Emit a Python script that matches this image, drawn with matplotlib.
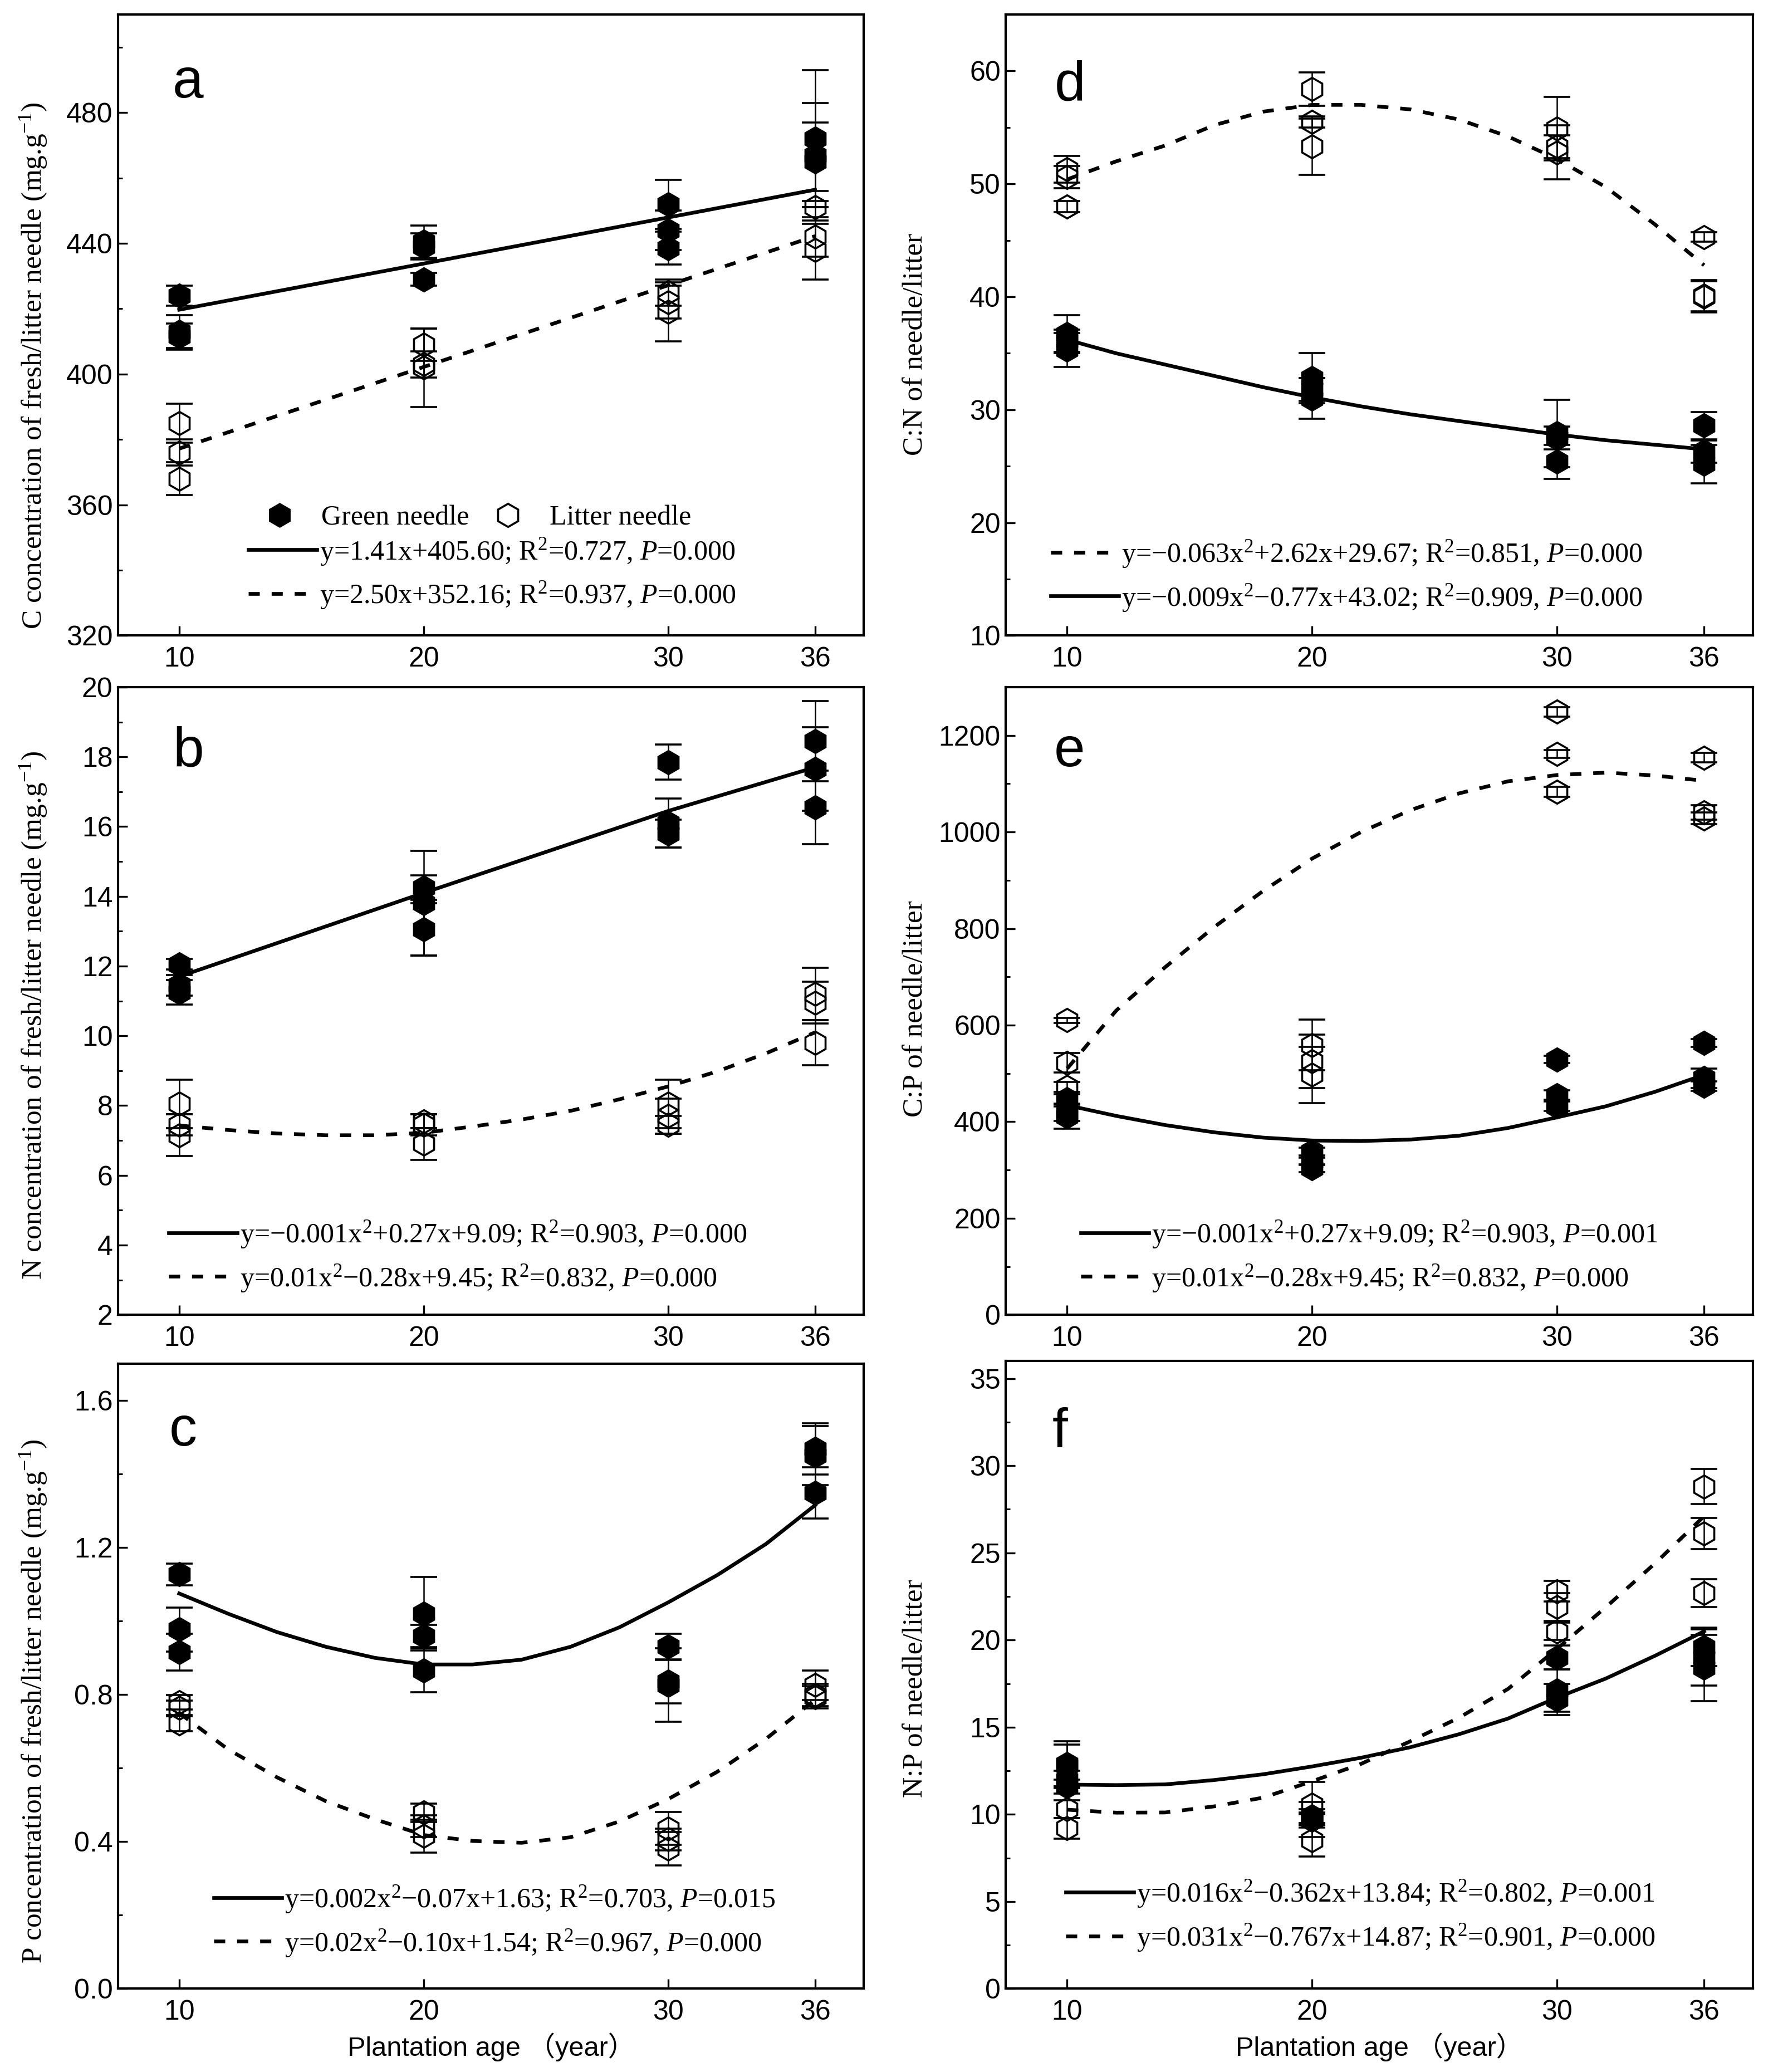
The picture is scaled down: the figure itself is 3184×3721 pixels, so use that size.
import numpy as np
import matplotlib
matplotlib.use("Agg")
import matplotlib.pyplot as plt
from matplotlib.lines import Line2D
from matplotlib.ticker import MultipleLocator, FormatStrFormatter

plt.rcParams['font.family'] = ['Liberation Sans', 'Noto Sans CJK SC']
plt.rcParams['mathtext.fontset'] = 'custom'
plt.rcParams['mathtext.rm'] = 'Liberation Serif'
plt.rcParams['mathtext.it'] = 'Liberation Serif:italic'

SERIF = ['Liberation Serif', 'DejaVu Serif']

ages = [10, 20, 30, 36]
fit_x = [10, 12, 14, 16, 18, 20, 22, 24, 26, 28, 30, 32, 34, 36]

# --- a: C concentration
c_green = [[424, 413, 411.5], [440.5, 439, 429], [452, 444, 438.5], [472, 467, 465]]
c_green_err = [[3, 5, 4], [5, 4, 2], [7.5, 6, 5], [21, 16, 12]]
c_litter = [[385, 376, 368], [409, 403, 402], [425, 422, 419], [451, 442, 438]]
c_litter_err = [[6, 4, 5], [5, 4, 12], [4, 5, 9], [5, 6, 9]]
c_fit_x = [10, 36]
c_green_fit = [419.7, 456.4]
c_litter_fit = [377.2, 442.2]

# --- b: N concentration
n_green = [[12.05, 11.45, 11.25], [14.25, 13.8, 13.05], [17.85, 16.1, 15.8], [18.45, 17.65, 16.55]]
n_green_err = [[0.15, 0.3, 0.35], [0.35, 1.5, 0.75], [0.5, 0.7, 0.4], [1.15, 1.2, 1.05]]
n_litter = [[8.05, 7.45, 7.15], [7.55, 7.45, 6.9], [8.05, 7.7, 7.45], [11.2, 10.95, 9.8]]
n_litter_err = [[0.7, 0.3, 0.6], [0.2, 0.3, 0.45], [0.7, 0.5, 0.25], [0.75, 0.6, 0.65]]
n_green_fit_x = [10, 20, 30, 36]
n_green_fit = [11.7, 14.1, 16.45, 17.7]
n_litter_fit = [7.43, 7.3, 7.2, 7.15, 7.15, 7.22, 7.4, 7.6, 7.85, 8.18, 8.55, 8.98, 9.5, 10.1]

# --- c: P concentration
p_green = [[1.127, 0.977, 0.916], [1.02, 0.959, 0.866], [0.93, 0.836, 0.826], [1.468, 1.45, 1.349]]
p_green_err = [[0.03, 0.06, 0.05], [0.1, 0.03, 0.06], [0.035, 0.06, 0.1], [0.07, 0.08, 0.07]]
p_litter = [[0.779, 0.764, 0.721], [0.479, 0.442, 0.415], [0.436, 0.406, 0.381], [0.826, 0.799, 0.793]]
p_litter_err = [[0.02, 0.02, 0.02], [0.025, 0.03, 0.045], [0.045, 0.03, 0.045], [0.04, 0.03, 0.03]]
p_green_fit = [1.075, 1.02, 0.97, 0.93, 0.90, 0.882, 0.882, 0.895, 0.93, 0.983, 1.051, 1.125, 1.21, 1.315]
p_litter_fit = [0.75, 0.651, 0.575, 0.51, 0.461, 0.418, 0.402, 0.397, 0.412, 0.455, 0.516, 0.59, 0.68, 0.786]

# --- d: C:N
cn_green = [[36.7, 36.1, 35.3], [32.8, 31.8, 31.0], [27.9, 27.5, 25.4], [28.6, 26.3, 25.2]]
cn_green_err = [[1.7, 1.0, 1.5], [2.2, 1.0, 1.8], [3.0, 1.0, 1.5], [1.2, 1.0, 1.7]]
cn_litter = [[51.3, 50.6, 48.0], [58.4, 55.5, 53.3], [54.9, 53.3, 52.8], [45.3, 40.1, 40.0]]
cn_litter_err = [[1.2, 1.0, 0.5], [1.5, 0.5, 2.5], [2.8, 1.0, 2.4], [0.4, 1.4, 1.4]]
cn_green_fit = [36.2, 35.0, 34.0, 33.0, 32.0, 31.1, 30.3, 29.6, 29.0, 28.4, 27.8, 27.3, 26.9, 26.5]
cn_litter_fit = [50.4, 52.0, 53.4, 55.2, 56.4, 57.0, 57.0, 56.6, 55.7, 54.2, 52.2, 49.7, 46.4, 42.8]

# --- e: C:P
cp_green = [[447, 417, 411], [338, 318, 304], [529, 455, 432], [563, 490, 474]]
cp_green_err = [[10, 15, 25], [8, 8, 8], [8, 10, 10], [8, 20, 10]]
cp_litter = [[610, 522, 472], [559, 525, 497], [1249, 1162, 1083], [1154, 1041, 1028]]
cp_litter_err = [[5, 20, 10], [53, 55, 58], [10, 8, 10], [10, 15, 12]]
cp_green_fit = [434, 412, 393, 378, 367, 361, 360, 363, 371, 387, 409, 432, 462, 497]
cp_litter_fit = [510, 630, 720, 803, 878, 945, 1000, 1045, 1080, 1105, 1118, 1123, 1117, 1106]

# --- f: N:P
np_green = [[12.9, 12.0, 11.6], [9.9, 9.8, 9.7], [19.0, 17.1, 16.6], [19.6, 19.0, 18.4]]
np_green_err = [[1.3, 0.5, 0.4], [0.4, 0.3, 0.3], [0.7, 1.2, 0.9], [1.1, 1.6, 1.9]]
np_litter = [[12.8, 10.3, 9.2], [10.55, 9.7, 8.5], [22.8, 21.9, 20.5], [28.8, 26.1, 22.7]]
np_litter_err = [[1.2, 0.5, 0.6], [1.3, 1.0, 0.9], [0.6, 0.8, 0.5], [1.0, 0.9, 0.8]]
np_green_fit = [11.71, 11.68, 11.72, 11.97, 12.3, 12.75, 13.25, 13.85, 14.6, 15.5, 16.7, 17.8, 19.1, 20.5]
np_litter_fit = [10.27, 10.1, 10.11, 10.46, 10.96, 11.9, 12.9, 14.19, 15.55, 17.2, 19.5, 21.9, 24.4, 27.1]

eq_a = [r'y=1.41x+405.60; R$^2$=0.727, $\mathit{P}$=0.000',
        r'y=2.50x+352.16; R$^2$=0.937, $\mathit{P}$=0.000']
eq_b = [r'y=−0.001x$^2$+0.27x+9.09; R$^2$=0.903, $\mathit{P}$=0.000',
        r'y=0.01x$^2$−0.28x+9.45; R$^2$=0.832, $\mathit{P}$=0.000']
eq_c = [r'y=0.002x$^2$−0.07x+1.63; R$^2$=0.703, $\mathit{P}$=0.015',
        r'y=0.02x$^2$−0.10x+1.54; R$^2$=0.967, $\mathit{P}$=0.000']
eq_d = [r'y=−0.063x$^2$+2.62x+29.67; R$^2$=0.851, $\mathit{P}$=0.000',
        r'y=−0.009x$^2$−0.77x+43.02; R$^2$=0.909, $\mathit{P}$=0.000']
eq_e = [r'y=−0.001x$^2$+0.27x+9.09; R$^2$=0.903, $\mathit{P}$=0.001',
        r'y=0.01x$^2$−0.28x+9.45; R$^2$=0.832, $\mathit{P}$=0.000']
eq_f = [r'y=0.016x$^2$−0.362x+13.84; R$^2$=0.802, $\mathit{P}$=0.001',
        r'y=0.031x$^2$−0.767x+14.87; R$^2$=0.901, $\mathit{P}$=0.000']

LW = 2.4
DASH = (3, 3.2)
MS = 15
LEG_FS = 18


def scatter_group(ax, vals, errs, filled):
    xs = np.repeat(ages, 3)
    ys = np.array(vals).ravel()
    es = np.array(errs).ravel()
    ax.errorbar(xs, ys, yerr=es, fmt='h', ms=MS, mew=1.3, mec='black',
                mfc='black' if filled else 'none', ecolor='black',
                elinewidth=0.9, capsize=8.5, capthick=0.9, zorder=3)


def style_axes(ax, ylim, major, minor, fmt):
    ax.set_xlim(7.5, 38.0)
    ax.set_ylim(*ylim)
    ax.set_xticks(ages)
    ax.yaxis.set_major_locator(MultipleLocator(major))
    ax.yaxis.set_minor_locator(MultipleLocator(minor))
    ax.yaxis.set_major_formatter(FormatStrFormatter(fmt))
    for s in ax.spines.values():
        s.set_linewidth(1.5)
    ax.tick_params(axis='both', which='major', direction='in', length=6, width=1.2,
                   labelsize=18, top=False, right=False)
    ax.tick_params(axis='y', which='major', pad=3.5)
    ax.tick_params(axis='x', which='major', pad=7)
    ax.tick_params(axis='y', which='minor', direction='in', length=3, width=1.1, right=False)
    ax.tick_params(axis='x', which='minor', bottom=False)


def fit_legend(ax, order, labels, x0, yc):
    handles = []
    for kind in order:
        if kind == 'solid':
            handles.append(Line2D([], [], color='black', lw=LW))
        else:
            handles.append(Line2D([], [], color='black', lw=LW, dashes=DASH))
    leg = ax.legend(handles, labels, loc='center left', bbox_to_anchor=(x0, yc),
                    frameon=False, handlelength=2.45, handletextpad=0.1, borderpad=0,
                    borderaxespad=0, labelspacing=0.45, prop={'family': SERIF, 'size': LEG_FS})
    return leg


def panel(ax, letter, letter_xy, green, green_err, litter, litter_err,
          gx, gfit, lx, lfit, ylim, major, minor, fmt, ylabel, lab_xy):
    ax.plot(gx, gfit, color='black', lw=LW, zorder=2)
    ax.plot(lx, lfit, color='black', lw=LW, dashes=DASH, zorder=2)
    scatter_group(ax, green, green_err, True)
    scatter_group(ax, litter, litter_err, False)
    style_axes(ax, ylim, major, minor, fmt)
    ax.set_ylabel(ylabel, family=SERIF, fontsize=18.5)
    ax.yaxis.set_label_coords(*lab_xy)
    ax.text(letter_xy[0], letter_xy[1], letter, transform=ax.transAxes, fontsize=36,
            ha='center', va='center')


fig = plt.figure(figsize=(15.92, 18.605), dpi=200)
W = 1336.0
H = 1568.0


def make_ax(l, r, t, b):
    return fig.add_axes([l / W, 1 - b / H, (r - l) / W, (b - t) / H])


ax_a = make_ax(89, 651, 11, 481)
ax_b = make_ax(89, 651, 520, 995)
ax_c = make_ax(89, 651, 1032, 1505)
ax_d = make_ax(758, 1321, 11, 481)
ax_e = make_ax(758, 1321, 520, 995)
ax_f = make_ax(758, 1321, 1030, 1505)

LX_L = -0.093
LX_R = -0.104

panel(ax_a, 'a', (0.094, 0.89), c_green, c_green_err, c_litter, c_litter_err,
      c_fit_x, c_green_fit, c_fit_x, c_litter_fit, (320, 510), 40, 20, '%d',
      r'C concentration of fresh/litter needle (mg.g$^{-1}$)', (LX_L, 0.435))
panel(ax_b, 'b', (0.094, 0.897), n_green, n_green_err, n_litter, n_litter_err,
      n_green_fit_x, n_green_fit, fit_x, n_litter_fit, (2, 20), 2, 1, '%d',
      r'N concentration of fresh/litter needle (mg.g$^{-1}$)', (LX_L, 0.477))
panel(ax_c, 'c', (0.087, 0.892), p_green, p_green_err, p_litter, p_litter_err,
      fit_x, p_green_fit, fit_x, p_litter_fit, (0, 1.7), 0.4, 0.2, '%.1f',
      r'P concentration of fresh/litter needle (mg.g$^{-1}$)', (LX_L, 0.46))
panel(ax_d, 'd', (0.086, 0.885), cn_green, cn_green_err, cn_litter, cn_litter_err,
      fit_x, cn_green_fit, fit_x, cn_litter_fit, (10, 65), 10, 5, '%d',
      'C:N of needle/litter', (LX_R, 0.469))
panel(ax_e, 'e', (0.085, 0.897), cp_green, cp_green_err, cp_litter, cp_litter_err,
      fit_x, cp_green_fit, fit_x, cp_litter_fit, (0, 1300), 200, 100, '%d',
      'C:P of needle/litter', (LX_R, 0.488))
panel(ax_f, 'f', (0.072, 0.885), np_green, np_green_err, np_litter, np_litter_err,
      fit_x, np_green_fit, fit_x, np_litter_fit, (0, 36), 5, 2.5, '%d',
      'N:P of needle/litter', (LX_R, 0.478))

# legend of markers in panel a
mk = [Line2D([], [], ls='none', marker='h', ms=MS, mfc='black', mec='black'),
      Line2D([], [], ls='none', marker='h', ms=MS, mfc='none', mec='black', mew=1.3)]
leg_m = ax_a.legend(mk, ['Green needle', 'Litter needle'], loc='center left',
                    bbox_to_anchor=(0.194, 0.189), ncol=2, frameon=False,
                    handlelength=1.2, handletextpad=0.9, columnspacing=0.8,
                    borderpad=0, borderaxespad=0, prop={'family': SERIF, 'size': LEG_FS})
ax_a.add_artist(leg_m)

fit_legend(ax_a, ['solid', 'dashed'], eq_a, 0.175, 0.10)
fit_legend(ax_b, ['solid', 'dashed'], eq_b, 0.068, 0.093)
fit_legend(ax_c, ['solid', 'dashed'], eq_c, 0.128, 0.108)
fit_legend(ax_d, ['dashed', 'solid'], eq_d, 0.06, 0.096)
fit_legend(ax_e, ['solid', 'dashed'], eq_e, 0.10, 0.093)
fit_legend(ax_f, ['solid', 'dashed'], eq_f, 0.08, 0.116)

for ax in (ax_c, ax_f):
    ax.set_xlabel('Plantation age （year）', fontsize=17.5, labelpad=5,
                  family=['Liberation Sans', 'Noto Sans CJK SC'])

fig.savefig('out.png', dpi=200, facecolor='white')
